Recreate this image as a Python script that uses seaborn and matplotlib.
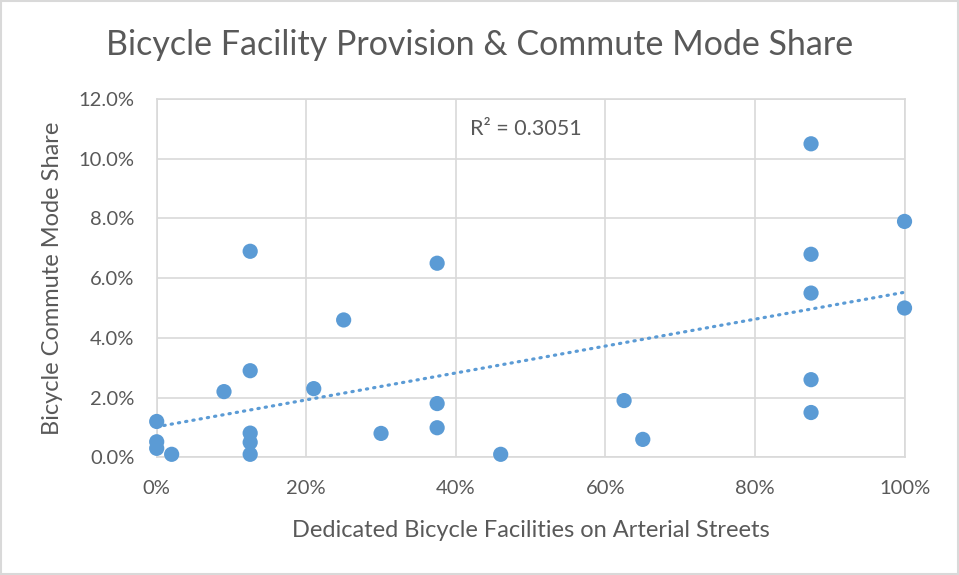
import matplotlib
matplotlib.use("Agg")
import matplotlib.pyplot as plt
from matplotlib.ticker import PercentFormatter
from matplotlib.patches import Rectangle
import numpy as np
import pandas as pd
import seaborn as sns

# share of arterial streets with dedicated bicycle facilities
facility_share = [0.0, 0.0, 0.0, 0.02, 0.09, 0.125, 0.125, 0.125, 0.125, 0.125,
                  0.21, 0.25, 0.30, 0.375, 0.375, 0.375, 0.46, 0.625, 0.65,
                  0.875, 0.875, 0.875, 0.875, 0.875, 1.0, 1.0]
# bicycle commute mode share
mode_share = [0.012, 0.0052, 0.003, 0.001, 0.022, 0.069, 0.029, 0.0081, 0.005, 0.001,
              0.023, 0.046, 0.008, 0.065, 0.018, 0.0099, 0.001, 0.019, 0.006,
              0.105, 0.068, 0.055, 0.026, 0.015, 0.079, 0.05]
r2_label = "R² = 0.3051"

df = pd.DataFrame({"facility": facility_share, "mode": mode_share})

blue = "#5B9BD5"
grey_text = "#595959"
grid_col = "#d9d9d9"

sns.set_style("white")
plt.rcParams["font.family"] = ["Lato", "DejaVu Sans"]

fig = plt.figure(figsize=(9.59, 5.75), dpi=100)
ax = fig.add_axes([0.1634, 0.2047, 0.7798, 0.6231])

# trendline
sns.regplot(data=df, x="facility", y="mode", scatter=False, ci=None, ax=ax,
            line_kws=dict(color=blue, lw=2.3, linestyle=(0, (0.4, 1.9)),
                          dash_capstyle="round", zorder=3))

sns.scatterplot(data=df, x="facility", y="mode", ax=ax, color=blue, s=120,
                edgecolor="none", clip_on=False, zorder=4)

ax.set_xlim(0, 1)
ax.set_ylim(0, 0.12)
ax.set_xticks(np.arange(0, 1.01, 0.2))
ax.set_yticks(np.arange(0, 0.121, 0.02))
ax.xaxis.set_major_formatter(PercentFormatter(1.0, decimals=0))
ax.yaxis.set_major_formatter(PercentFormatter(1.0, decimals=1))
ax.grid(True, color=grid_col, lw=1.2)
ax.set_axisbelow(True)
for s in ax.spines.values():
    s.set_color(grid_col)
    s.set_linewidth(1.2)
ax.tick_params(length=0, labelsize=14.5, colors=grey_text)
ax.tick_params(axis="x", pad=16)
ax.tick_params(axis="y", pad=16)

ax.set_xlabel("Dedicated Bicycle Facilities on Arterial Streets", fontsize=17,
              color=grey_text, labelpad=17)
ax.set_ylabel("Bicycle Commute Mode Share", fontsize=17, color=grey_text, labelpad=11)

ax.text(0.419, 0.110, r2_label, fontsize=15.5, color=grey_text, va="center", ha="left")

fig.text(0.5, 0.922, "Bicycle Facility Provision & Commute Mode Share",
         fontsize=24.5, color=grey_text, ha="center", va="center")

fig.patches.append(Rectangle((0.001, 0.001), 0.998, 0.998, transform=fig.transFigure,
                             fill=False, edgecolor=grid_col, lw=1.5))

fig.savefig("out.png", dpi=100)
